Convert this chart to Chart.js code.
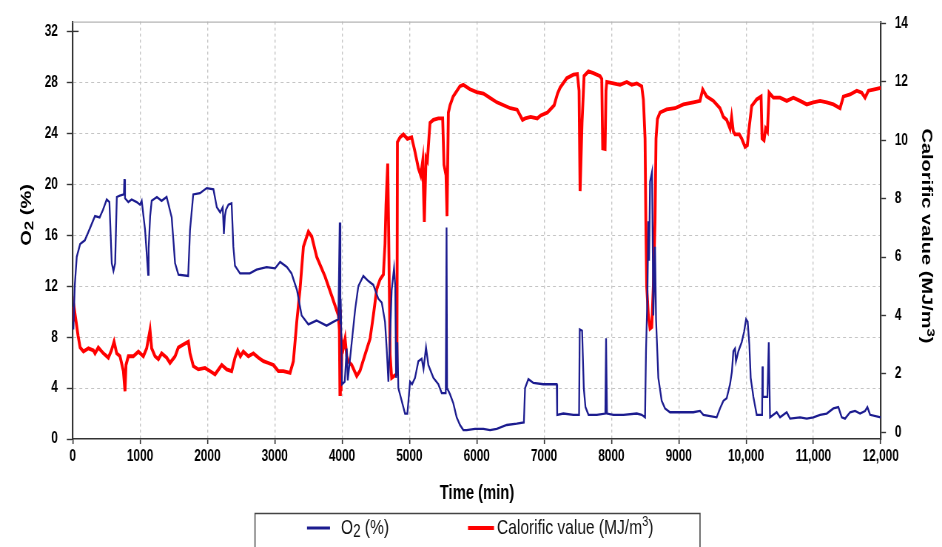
<!DOCTYPE html>
<html><head><meta charset="utf-8">
<script src="https://cdn.jsdelivr.net/npm/chart.js@4.4.1/dist/chart.umd.min.js"></script>
<style>
html,body{margin:0;padding:0;background:#fff;overflow:hidden;width:942px;height:547px;}
#wrap{position:absolute;left:0;top:0;width:1273px;height:547px;transform:scaleX(0.74);transform-origin:0 0;}
</style></head><body>
<div id="wrap"><canvas id="c"></canvas></div>
<script>
// ---- data ----
const timeTicks = [0,1000,2000,3000,4000,5000,6000,7000,8000,9000,10000,11000,12000];
const o2Ticks = [0,4,8,12,16,20,24,28,32];
const cvTicks = [0,2,4,6,8,10,12,14];

const o2Time = [10,30,60,110,180,260,330,400,450,505,545,580,605,630,655,700,760,767,777,826,875,950,1000,1025,1075,1120,1128,1150,1173,1250,1320,1395,1470,1520,1570,1715,1742,1790,1890,1990,2090,2140,2190,2228,2245,2260,2277,2312,2360,2386,2410,2485,2630,2730,2880,3005,3080,3180,3250,3330,3400,3500,3620,3770,3870,3945,3965,3975,3980,4000,4040,4069,4085,4144,4195,4242,4316,4391,4465,4540,4590,4638,4663,4688,4713,4737,4772,4790,4802,4822,4836,4886,4935,4970,5010,5040,5084,5133,5183,5210,5247,5282,5356,5430,5480,5540,5552,5560,5604,5653,5702,5752,5801,5851,5975,6099,6198,6297,6446,6595,6700,6718,6767,6842,6990,7188,7195,7287,7436,7520,7530,7565,7590,7615,7660,7783,7910,7921,7935,8030,8179,8377,8450,8500,8514,8534,8549,8560,8574,8604,8623,8648,8663,8697,8747,8796,8870,9019,9217,9316,9366,9564,9613,9663,9712,9762,9790,9811,9836,9850,9886,9935,9970,10000,10024,10049,10069,10109,10158,10238,10243,10250,10317,10337,10356,10455,10505,10604,10653,10802,10901,11000,11099,11198,11297,11371,11421,11470,11545,11619,11693,11767,11802,11842,12000];
const o2Values = [8.6,12.0,14.3,15.3,15.6,16.6,17.5,17.4,18.0,18.8,18.6,13.8,13.2,13.8,19.0,19.1,19.2,20.4,18.9,18.6,18.8,18.6,18.4,18.7,16.4,12.9,15.0,17.5,18.7,19.0,18.7,19.0,17.4,13.8,12.9,12.8,16.4,19.2,19.3,19.7,19.6,18.2,17.8,18.2,16.1,17.5,18.0,18.4,18.5,15.1,13.6,13.0,13.0,13.3,13.5,13.4,13.9,13.5,13.0,11.7,9.7,9.0,9.3,8.9,9.2,9.4,17.0,9.0,11.0,4.3,4.5,7.1,4.6,7.6,10.2,12.0,12.8,12.4,12.1,11.0,10.7,9.2,7.1,4.5,8.1,11.7,13.4,12.0,4.8,7.6,4.0,3.0,2.0,2.0,4.5,4.3,4.8,6.1,6.3,5.5,7.2,5.8,4.8,4.3,3.6,3.6,16.6,4.0,3.5,2.8,1.7,1.1,0.7,0.7,0.8,0.8,0.7,0.8,1.1,1.2,1.3,4.0,4.7,4.4,4.3,4.3,1.9,2.0,1.9,1.9,8.6,8.5,4.0,2.5,1.9,1.9,2.0,7.9,2.0,1.9,1.9,2.0,1.9,1.7,6.9,11.0,17.1,14.0,20.2,21.0,9.7,15.1,9.4,4.8,3.0,2.4,2.1,2.1,2.1,2.2,1.9,1.7,2.4,3.0,3.2,4.3,5.3,6.9,7.1,6.1,6.9,7.6,8.4,9.4,9.2,7.4,4.8,3.3,1.9,1.9,5.7,3.3,3.3,7.6,1.7,2.1,1.7,2.1,1.6,1.7,1.6,1.7,1.9,2.0,2.4,2.5,1.7,1.6,2.1,2.2,2.0,2.2,2.5,1.9,1.7];

const cvTime = [0,15,25,80,110,160,233,307,331,380,455,529,575,614,653,702,752,777,791,826,900,975,1049,1098,1148,1173,1222,1272,1321,1396,1445,1520,1569,1643,1718,1742,1792,1866,1965,2040,2114,2213,2287,2361,2410,2450,2490,2534,2609,2683,2757,2832,2906,2980,3054,3129,3228,3277,3327,3376,3426,3500,3550,3624,3748,3847,3946,3960,3968,3975,3985,4000,4020,4045,4070,4094,4144,4218,4267,4341,4416,4465,4515,4564,4614,4638,4653,4678,4693,4713,4737,4800,4815,4822,4861,4911,4970,5034,5084,5133,5168,5198,5222,5247,5267,5306,5356,5430,5494,5514,5544,5559,5579,5604,5650,5750,5800,5900,6000,6100,6200,6300,6400,6500,6600,6680,6720,6800,6900,6950,7050,7150,7200,7238,7337,7436,7495,7520,7535,7564,7594,7659,7733,7832,7857,7871,7906,7920,7931,8030,8129,8228,8302,8377,8450,8475,8500,8512,8524,8549,8574,8599,8623,8648,8663,8683,8722,8821,8945,9069,9217,9316,9356,9415,9514,9613,9663,9712,9762,9785,9811,9836,9900,9935,9985,10019,10049,10084,10158,10223,10238,10267,10290,10317,10342,10406,10505,10604,10703,10802,10901,11000,11099,11198,11297,11396,11445,11545,11644,11718,11767,11817,11891,12000];
const cvValues = [4.3,3.8,4.2,3.3,2.9,2.76,2.87,2.8,2.7,2.9,2.7,2.55,2.8,3.1,2.7,2.6,2.1,1.4,2.3,2.6,2.6,2.76,2.6,2.87,3.5,2.87,2.6,2.5,2.7,2.55,2.37,2.6,2.9,3.0,3.1,2.7,2.26,2.15,2.2,2.09,1.98,2.3,2.15,2.09,2.55,2.8,2.6,2.76,2.6,2.7,2.55,2.43,2.37,2.3,2.09,2.09,2.03,2.43,3.77,4.9,6.35,6.87,6.7,6.0,5.33,4.67,4.0,3.5,1.3,4.2,1.4,3.1,2.9,3.2,2.6,2.42,2.3,1.92,2.1,2.65,3.2,4.0,4.9,5.23,5.4,6.46,7.8,9.2,6.7,2.65,1.86,1.97,2.0,9.94,10.1,10.2,10.05,10.1,9.6,9.05,8.8,9.3,7.2,9.4,9.3,10.6,10.7,10.75,10.75,9.16,8.8,7.4,10.95,11.2,11.5,11.85,11.9,11.75,11.65,11.6,11.45,11.3,11.2,11.1,11.05,10.7,10.75,10.8,10.75,10.85,10.95,11.2,11.6,11.8,12.13,12.25,12.27,11.7,8.26,10.6,12.2,12.36,12.3,12.2,12.1,9.72,9.7,11.7,12.0,11.95,11.9,12.0,11.9,11.95,11.85,11.4,10.06,7.25,5.0,4.0,3.55,3.6,5.0,7.25,10.06,10.73,10.95,11.06,11.1,11.23,11.3,11.35,11.74,11.5,11.35,11.1,10.8,10.7,10.4,10.8,10.3,10.2,10.2,10.06,9.77,9.83,10.5,11.18,11.4,11.5,10.06,10.0,10.4,10.3,11.63,11.46,11.46,11.35,11.46,11.35,11.23,11.3,11.35,11.3,11.23,11.1,11.5,11.57,11.7,11.63,11.46,11.7,11.74,11.8];

// ---- layout (px in picture / S = canvas units) ----
const S = 0.74;
const FAM = "'Liberation Sans', Arial, sans-serif";
const PLOT_LEFT = 72.7 / S;
const RIGHT_W = (942 - 880.7) / S;

function fmt(v){ return v >= 10000 ? String(v).replace(/\B(?=(\d{3})+(?!\d))/g, ',') : String(v); }

function richDraw(ctx, parts, x, y, weight, align){
  let w = 0;
  for (const p of parts){ ctx.font = weight + ' ' + p.size + 'px ' + FAM; w += ctx.measureText(p.t).width; }
  let cx = align === 'center' ? x - w/2 : x;
  ctx.textAlign = 'left'; ctx.textBaseline = 'middle';
  for (const p of parts){
    ctx.font = weight + ' ' + p.size + 'px ' + FAM;
    ctx.fillText(p.t, cx, y + (p.dy || 0));
    cx += ctx.measureText(p.t).width;
  }
}

const decor = {
  id: 'decor',
  beforeDatasetsDraw(chart){
    const {ctx, chartArea: a} = chart;
    ctx.save();
    ctx.strokeStyle = '#b4b4b4'; ctx.lineWidth = 1.2;
    ctx.beginPath(); ctx.moveTo(a.left, a.top + 0.5); ctx.lineTo(a.right, a.top + 0.5); ctx.stroke();
    // inner part of the top tick on left axis
    const y32 = chart.scales.y.getPixelForValue(32);
    ctx.strokeStyle = '#333'; ctx.lineWidth = 1.4;
    ctx.beginPath(); ctx.moveTo(a.left, y32); ctx.lineTo(a.left + 8, y32); ctx.stroke();
    ctx.restore();
  },
  afterDraw(chart){
    const ctx = chart.ctx;
    ctx.save();
    ctx.fillStyle = '#000';
    // x title
    richDraw(ctx, [{t:'Time (min)', size:20}], 477 / S, 493, 'bold', 'center');
    // left title
    ctx.save();
    ctx.translate(27 / S, 215); ctx.rotate(-Math.PI/2);
    richDraw(ctx, [{t:'O', size:20},{t:'2', size:17, dy:4},{t:' (%)', size:20}], 0, 0, 'bold', 'center');
    ctx.restore();
    // right title
    ctx.save();
    ctx.translate(926 / S, 236); ctx.rotate(Math.PI/2);
    richDraw(ctx, [{t:'Calorific value (MJ/m', size:20},{t:'3', size:15, dy:-6},{t:')', size:20}], 0, 0, 'bold', 'center');
    ctx.restore();
    // legend box
    ctx.strokeStyle = '#444'; ctx.lineWidth = 1.5;
    ctx.strokeRect(255 / S, 513.5, (700 - 255) / S, 60);
    ctx.lineWidth = 3; ctx.strokeStyle = '#1c1c8f';
    ctx.beginPath(); ctx.moveTo(307 / S, 528); ctx.lineTo(330 / S, 528); ctx.stroke();
    ctx.lineWidth = 4; ctx.strokeStyle = '#ff0000';
    ctx.beginPath(); ctx.moveTo(468 / S, 528); ctx.lineTo(494 / S, 528); ctx.stroke();
    ctx.fillStyle = '#111';
    richDraw(ctx, [{t:'O', size:21},{t:'2', size:18, dy:4},{t:' (%)', size:21}], 341 / S, 528, 'normal', 'left');
    richDraw(ctx, [{t:'Calorific value (MJ/m', size:21},{t:'3', size:15, dy:-6},{t:')', size:21}], 497 / S, 528, 'normal', 'left');
    ctx.restore();
  }
};

const gridCol = '#c4c4c4';
const axisCol = '#333333';

new Chart(document.getElementById('c'), {
  type: 'line',
  data: {
    datasets: [
      { label: 'O2 (%)', data: o2Time.map((t,i)=>({x:t, y:o2Values[i]})), yAxisID: 'y',
        borderColor: '#1c1c8f', borderWidth: 2.3, pointRadius: 0, tension: 0, fill: false },
      { label: 'Calorific value (MJ/m3)', data: cvTime.map((t,i)=>({x:t, y:cvValues[i]})), yAxisID: 'y1',
        borderColor: '#ff0000', borderWidth: 3.8, pointRadius: 0, tension: 0, fill: false }
    ]
  },
  options: {
    responsive: true, maintainAspectRatio: false, animation: false, devicePixelRatio: 1,
    layout: { padding: { top: 14, left: 0, right: 0, bottom: 0 } },
    plugins: { legend: { display: false }, tooltip: { enabled: false }, title: { display: false } },
    scales: {
      x: {
        type: 'linear', position: 'bottom', min: 0, max: 12000,
        afterBuildTicks: s => { s.ticks = timeTicks.map(v => ({value: v})); },
        afterFit: s => { s.height = 108; },
        grid: { color: c => (c.tick && (c.tick.value === 0 || c.tick.value === 12000)) ? 'rgba(0,0,0,0)' : gridCol,
                lineWidth: 1.35, tickColor: axisCol, tickLength: 5, tickWidth: 1.6, tickBorderDash: [] },
        border: { color: axisCol, width: 1.5, dash: [3,3] },
        ticks: { color: '#000', font: { family: FAM, size: 16, weight: 'bold' }, padding: 3, maxRotation: 0, autoSkip: false,
                 callback: v => fmt(v) }
      },
      y: {
        type: 'linear', position: 'left', min: 0, max: 32.77,
        afterBuildTicks: s => { s.ticks = o2Ticks.map(v => ({value: v})); },
        afterFit: s => { s.width = PLOT_LEFT; },
        grid: { color: c => (c.tick && (c.tick.value === 0 || c.tick.value === 32)) ? 'rgba(0,0,0,0)' : gridCol,
                lineWidth: 1, tickColor: axisCol, tickLength: 8, tickWidth: 1.4, tickBorderDash: [] },
        border: { color: axisCol, width: 2.2, dash: [4,4] },
        ticks: { color: '#000', font: { family: FAM, size: 16, weight: 'bold' }, padding: 12, callback: v => String(v) }
      },
      y1: {
        type: 'linear', position: 'right', min: -0.2356, max: 14.067,
        afterBuildTicks: s => { s.ticks = cvTicks.map(v => ({value: v})); },
        afterFit: s => { s.width = RIGHT_W; },
        grid: { drawOnChartArea: false, color: axisCol, tickColor: axisCol, tickLength: 7, tickWidth: 1.4, tickBorderDash: [] },
        border: { color: axisCol, width: 2.2 },
        ticks: { color: '#000', font: { family: FAM, size: 16, weight: 'bold' }, padding: 12, callback: v => String(v) }
      }
    }
  },
  plugins: [decor]
});
</script>
</body></html>
